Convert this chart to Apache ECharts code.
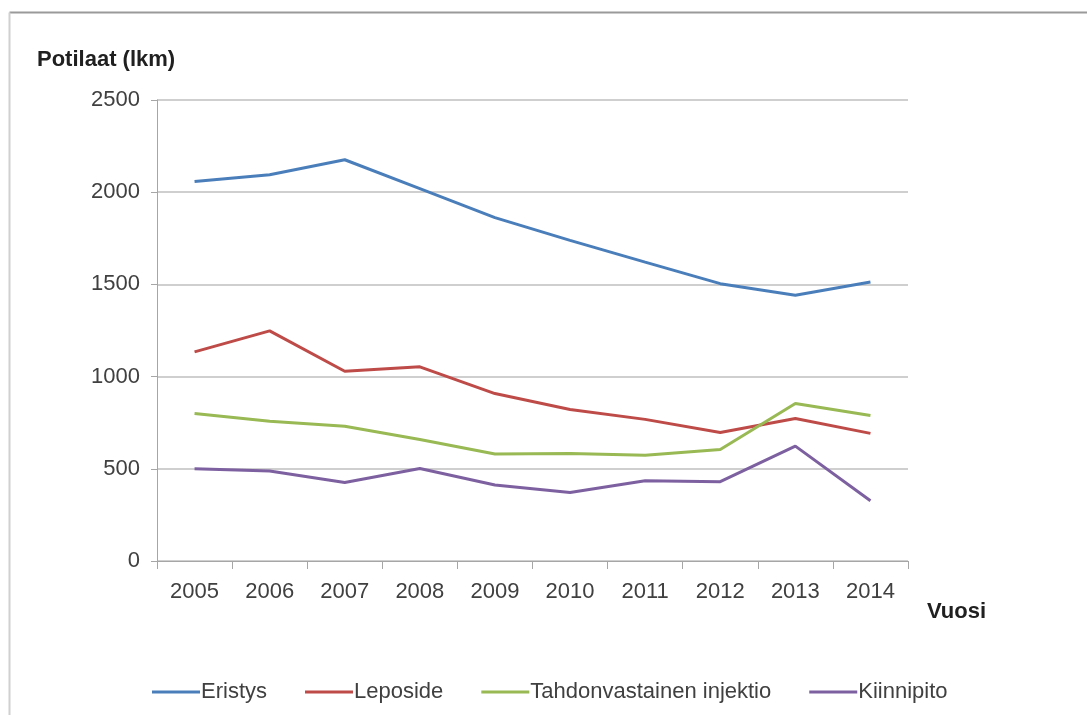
<!DOCTYPE html>
<html>
<head>
<meta charset="utf-8">
<script src="https://cdn.jsdelivr.net/npm/echarts@6/dist/echarts.min.js"></script>
<style>
html,body{margin:0;padding:0;background:#fff;}
#chart{width:1087px;height:715px;}
</style>
</head>
<body>
<div id="chart"></div>
<script>
const years = ['2005','2006','2007','2008','2009','2010','2011','2012','2013','2014'];
const eristys = [2058, 2095, 2176, 2019, 1862, 1739, 1621, 1504, 1441, 1513];
const leposide = [1134, 1248, 1029, 1053, 908, 822, 768, 697, 773, 692];
const injektio = [800, 758, 731, 659, 580, 583, 573, 605, 854, 789];
const kiinnipito = [500, 488, 426, 502, 412, 372, 435, 430, 623, 327];
const seriesNames = ['Eristys', 'Leposide', 'Tahdonvastainen injektio', 'Kiinnipito'];
const yTicks = [0, 500, 1000, 1500, 2000, 2500];

const colors = ['#4A7EBB', '#BE4B48', '#98B954', '#7D60A0'];
const font = 'Liberation Sans, Arial, sans-serif';
const chart = echarts.init(document.getElementById('chart'));
const data = [eristys, leposide, injektio, kiinnipito];

chart.setOption({
  animation: false,
  color: colors,
  textStyle: { fontFamily: font },
  grid: { left: 157, right: 179, top: 100, bottom: 154, containLabel: false },
  xAxis: {
    type: 'category',
    data: years,
    boundaryGap: true,
    axisLine: { lineStyle: { color: '#A6A6A6', width: 1 } },
    axisTick: { show: true, length: 8, lineStyle: { color: '#A6A6A6' } },
    axisLabel: { color: '#404040', fontSize: 22, margin: 20, fontFamily: font },
    splitLine: { show: false }
  },
  yAxis: {
    type: 'value',
    min: yTicks[0],
    max: yTicks[yTicks.length - 1],
    interval: yTicks[1] - yTicks[0],
    axisLine: { show: true, lineStyle: { color: '#A6A6A6', width: 1 } },
    axisTick: { show: true, length: 6, lineStyle: { color: '#A6A6A6' } },
    axisLabel: { color: '#404040', fontSize: 22, margin: 17, fontFamily: font, formatter: v => String(v) },
    splitLine: { show: true, lineStyle: { color: '#BFBFBF', width: 1.5 } }
  },
  legend: {
    data: seriesNames,
    left: 147,
    top: 676,
    itemWidth: 48,
    itemHeight: 3,
    itemGap: 38,
    icon: 'rect',
    textStyle: { color: '#404040', fontSize: 22, fontFamily: font, padding: [0, 0, 0, -4] }
  },
  graphic: [
    { type: 'line', shape: { x1: 9.5, y1: 12.5, x2: 1087, y2: 12.5 }, style: { stroke: '#9A9A9A', lineWidth: 2 } },
    { type: 'line', shape: { x1: 9.5, y1: 12.5, x2: 9.5, y2: 715 }, style: { stroke: '#D0D0D0', lineWidth: 2 } },
    { type: 'text', left: 37, top: 49, style: { text: 'Potilaat (lkm)', font: 'bold 22px ' + font, fill: '#202020' } },
    { type: 'text', left: 927, top: 601, style: { text: 'Vuosi', font: 'bold 22px ' + font, fill: '#202020' } }
  ],
  series: data.map((d, i) => ({
    name: seriesNames[i],
    type: 'line',
    data: d,
    symbol: 'none',
    lineStyle: { width: 3, color: colors[i] },
    itemStyle: { color: colors[i] }
  }))
});
</script>
</body>
</html>
